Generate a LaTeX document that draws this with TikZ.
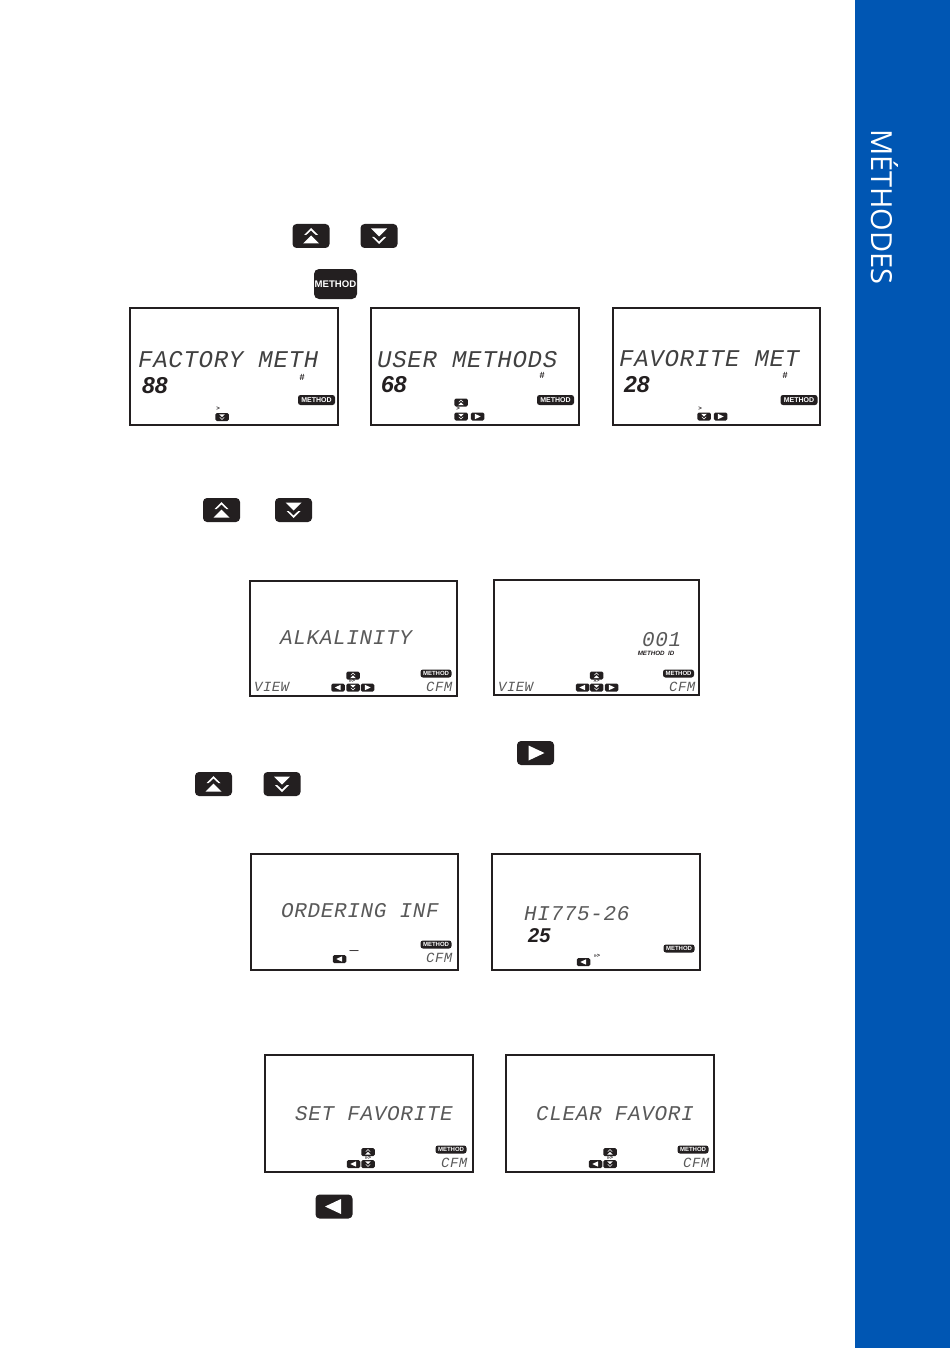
\documentclass[tikz,border=0pt]{standalone}
\usepackage{fontspec}
\setmainfont{Liberation Sans}
\newfontfamily\lcdfont[LetterSpace=3]{Liberation Mono}
\newfontfamily\tabfont{Open Sans}
\definecolor{keyblack}{HTML}{231F20}
\definecolor{tabblue}{HTML}{0056B3}
\tikzset{
  screen/.style={shape=rectangle,draw=keyblack,line width=2pt,minimum width=#1,minimum height=117pt,inner sep=0pt},
  screen/.default=208pt,
  keybase/.style={shape=rectangle,fill=keyblack,inner sep=0pt,outer sep=0pt},
  bigkey/.style={keybase,rounded corners=4pt,minimum width=37pt,minimum height=24pt},
  tinykey/.style={keybase,rounded corners=1.5pt,minimum width=13.5pt,minimum height=8pt},
  keyup/.style={path picture={\fill[white,sharp corners,shift={(path picture bounding box.center)},x=#1pt,y=-#1pt]
    (-7,-1)--(0,-8)--(7,-1)--(4.8,-1)--(0,-5.6)--(-4.8,-1)--cycle (-8,7.5)--(8,7.5)--(0,-0.5)--cycle;}},
  keyup/.default=1,
  keydown/.style={path picture={\fill[white,sharp corners,shift={(path picture bounding box.center)},x=#1pt,y=-#1pt]
    (-7,1)--(0,8)--(7,1)--(4.8,1)--(0,5.6)--(-4.8,1)--cycle (-8,-7.5)--(8,-7.5)--(0,0.5)--cycle;}},
  keydown/.default=1,
  keyright/.style={path picture={\fill[white,sharp corners,shift={(path picture bounding box.center)},x=#1pt,y=-#1pt]
    (-7,-7.5)--(9,0)--(-7,7.5)--cycle;}},
  keyright/.default=1,
  keyleft/.style={path picture={\fill[white,sharp corners,shift={(path picture bounding box.center)},x=#1pt,y=-#1pt]
    (7,-7.5)--(-9,0)--(7,7.5)--cycle;}},
  keyleft/.default=1,
  tinyup/.style={tinykey,keyup=0.36},
  tinydown/.style={tinykey,keydown=0.36},
  tinyright/.style={tinykey,keyright=0.36},
  tinyleft/.style={tinykey,keyleft=0.36},
  methodkey/.style={keybase,rounded corners=5pt,minimum width=43pt,minimum height=30pt,text=white,font=\bfseries\fontsize{9.6}{10}\selectfont},
  badge/.style={keybase,rounded corners=2.5pt,minimum width=#1,minimum height=10pt,text=white,font=\bfseries\fontsize{7}{7}\selectfont},
  badge/.default=37pt,
  smallbadge/.style={keybase,rounded corners=2.5pt,minimum width=31pt,minimum height=8pt,text=white,font=\bfseries\fontsize{6}{6}\selectfont},
  lcdbig/.style={anchor=west,inner sep=0pt,text=black!75,font=\lcdfont\itshape\fontsize{24}{24}\selectfont},
  lcdmid/.style={anchor=west,inner sep=0pt,text=black!65,font=\lcdfont\itshape\fontsize{21}{21}\selectfont},
  lcdsmall/.style={anchor=west,inner sep=0pt,text=black!65,font=\lcdfont\itshape\fontsize{14}{14}\selectfont},
  digits/.style={anchor=west,inner sep=0pt,text=keyblack,font=\bfseries\itshape\fontsize{23}{23}\selectfont},
  tiny/.style={inner sep=0pt,text=keyblack,font=\bfseries\fontsize{#1}{#1}\selectfont},
  tiny/.default=6,
}
\begin{document}
\begin{tikzpicture}[x=1pt,y=-1pt]
        \useasboundingbox (0,0) rectangle (950,1348);
        \node[shape=rectangle,fill=tabblue,inner sep=0pt,minimum width=95pt,minimum height=1348pt] (tab) at (902.5,674) {};
        \node[rotate=-90,text=white,inner sep=0pt,font=\tabfont\fontsize{29}{29}\selectfont] (tabtitle) at (885,207) {MÉTHODES};

        % keys in the running text
        \node[bigkey,keyup] (up1) at (311,236) {};
        \node[bigkey,keydown] (down1) at (379,236) {};
        \node[methodkey] (method1) at (335.5,284) {METHOD};
        \node[bigkey,keyup] (up2) at (221.5,510) {};
        \node[bigkey,keydown] (down2) at (293.5,510) {};
        \node[bigkey,keyright] (right3) at (535.5,753) {};
        \node[bigkey,keyup] (up3) at (213.5,784) {};
        \node[bigkey,keydown] (down3) at (282,784) {};
        \node[bigkey,keyleft] (left4) at (334,1206.5) {};

        % first row
        \node[screen] (factory) at (234,366.5) {};
        \node[screen] (user) at (475,366.5) {};
        \node[screen=207pt] (favorite) at (716.5,366.5) {};
        \node[lcdbig] (factorytxt) at (138,360) {FACTORY METH};
        \node[lcdbig] (usertxt) at (377,360) {USER METHODS};
        \node[lcdbig] (favoritetxt) at (619,359) {FAVORITE MET};
        \node[digits] (factorynum) at (142,386) {88};
        \node[digits] (usernum) at (381,385) {68};
        \node[digits] (favoritenum) at (624,385) {28};
        \node[tiny=9] (factoryhash) at (302,377) {\#};
        \node[tiny=9] (userhash) at (542,375) {\#};
        \node[tiny=9] (favoritehash) at (785,375) {\#};
        \node[badge] (factorybadge) at (316.5,400) {METHOD};
        \node[badge] (userbadge) at (555.5,400) {METHOD};
        \node[badge] (favoritebadge) at (799,400) {METHOD};
        \node[tiny] (factoryarrow) at (218,409) {>};
        \node[tiny] (userarrow) at (458,409) {>};
        \node[tiny] (favoritearrow) at (700,409) {>};
        \node[tinydown] (factorydown) at (222,417) {};
        \node[tinyup] (userup) at (461,402.5) {};
        \node[tinydown] (userdown) at (461,416.5) {};
        \node[tinyright] (userright) at (477.5,416.5) {};
        \node[tinydown] (favoritedown) at (704,416.5) {};
        \node[tinyright] (favoriteright) at (720.5,416.5) {};

        % second row
        \node[screen=207pt,minimum height=115pt] (alkalinity) at (353.5,638) {};
        \node[screen=205pt,minimum height=115pt] (methodid) at (596.5,637.5) {};
        \node[lcdmid] (alkalinitytxt) at (280,638) {ALKALINITY};
        \node[lcdmid] (methodidtxt) at (642,640) {001};
        \node[inner sep=0pt,text=keyblack,font=\bfseries\itshape\fontsize{6.2}{6}\selectfont] (methodidlbl) at (656,653) {METHOD\ \ ID};
        \node[smallbadge] (alkalinitybadge) at (436,673.5) {METHOD};
        \node[smallbadge] (methodidbadge) at (678.5,673.5) {METHOD};
        \node[lcdsmall] (alkalinityview) at (254,687) {VIEW};
        \node[lcdsmall] (methodidview) at (498,687) {VIEW};
        \node[lcdsmall] (alkalinitycfm) at (426,687) {CFM};
        \node[lcdsmall] (methodidcfm) at (669,687) {CFM};
        \node[tinyup] (alkup) at (353,675.5) {};
        \node[tinyleft] (alkleft) at (338,687.5) {};
        \node[tinydown] (alkdown) at (353,687.5) {};
        \node[tinyright] (alkright) at (367.5,687.5) {};
        \node[tiny=5.5] (alkarrow) at (352,681) {>>>};
        \node[tinyup] (idup) at (596.5,675.5) {};
        \node[tinyleft] (idleft) at (582.5,687.5) {};
        \node[tinydown] (iddown) at (596.5,687.5) {};
        \node[tinyright] (idright) at (611.5,687.5) {};
        \node[tiny=5.5] (idarrow) at (596.5,681) {>>>};

        % third row
        \node[screen=207pt,minimum height=116pt] (ordering) at (354.5,912) {};
        \node[screen,minimum height=116pt] (partno) at (596,912) {};
        \node[lcdmid] (orderingtxt) at (281,911) {ORDERING INF};
        \node[lcdmid] (partnotxt) at (524,914) {HI775-26};
        \node[digits,font=\bfseries\itshape\fontsize{20}{20}\selectfont] (partnonum) at (528,936) {25};
        \node[smallbadge] (orderingbadge) at (436,944.5) {METHOD};
        \node[smallbadge] (partnobadge) at (679,948.5) {METHOD};
        \node[lcdsmall] (orderingcfm) at (426,958) {CFM};
        \node[tinyleft] (orderingleft) at (339.5,959) {};
        \node[tinyleft] (partnoleft) at (583.5,962) {};
        \node[tiny=9] (orderingarrow) at (354,952.5) {---};
        \node[tiny=5.5] (partnoarrow) at (597,956) {>>>};

        % fourth row
        \node[screen] (setfav) at (369,1113.5) {};
        \node[screen] (clearfav) at (610,1113.5) {};
        \node[lcdmid] (setfavtxt) at (295,1114) {SET FAVORITE};
        \node[lcdmid] (clearfavtxt) at (536,1114) {CLEAR FAVORI};
        \node[smallbadge] (setfavbadge) at (451,1149.5) {METHOD};
        \node[smallbadge] (clearfavbadge) at (693,1149.5) {METHOD};
        \node[lcdsmall] (setfavcfm) at (441,1163) {CFM};
        \node[lcdsmall] (clearfavcfm) at (683,1163) {CFM};
        \node[tinyup] (setup) at (368,1152) {};
        \node[tinyleft] (setleft) at (353.5,1164) {};
        \node[tinydown] (setdown) at (368,1164) {};
        \node[tiny=5.5] (setarrow) at (368,1158) {>>>};
        \node[tinyup] (clearup) at (610,1152) {};
        \node[tinyleft] (clearleft) at (595.5,1164) {};
        \node[tinydown] (cleardown) at (610,1164) {};
        \node[tiny=5.5] (cleararrow) at (610,1158) {>>>};
\end{tikzpicture}
\end{document}
